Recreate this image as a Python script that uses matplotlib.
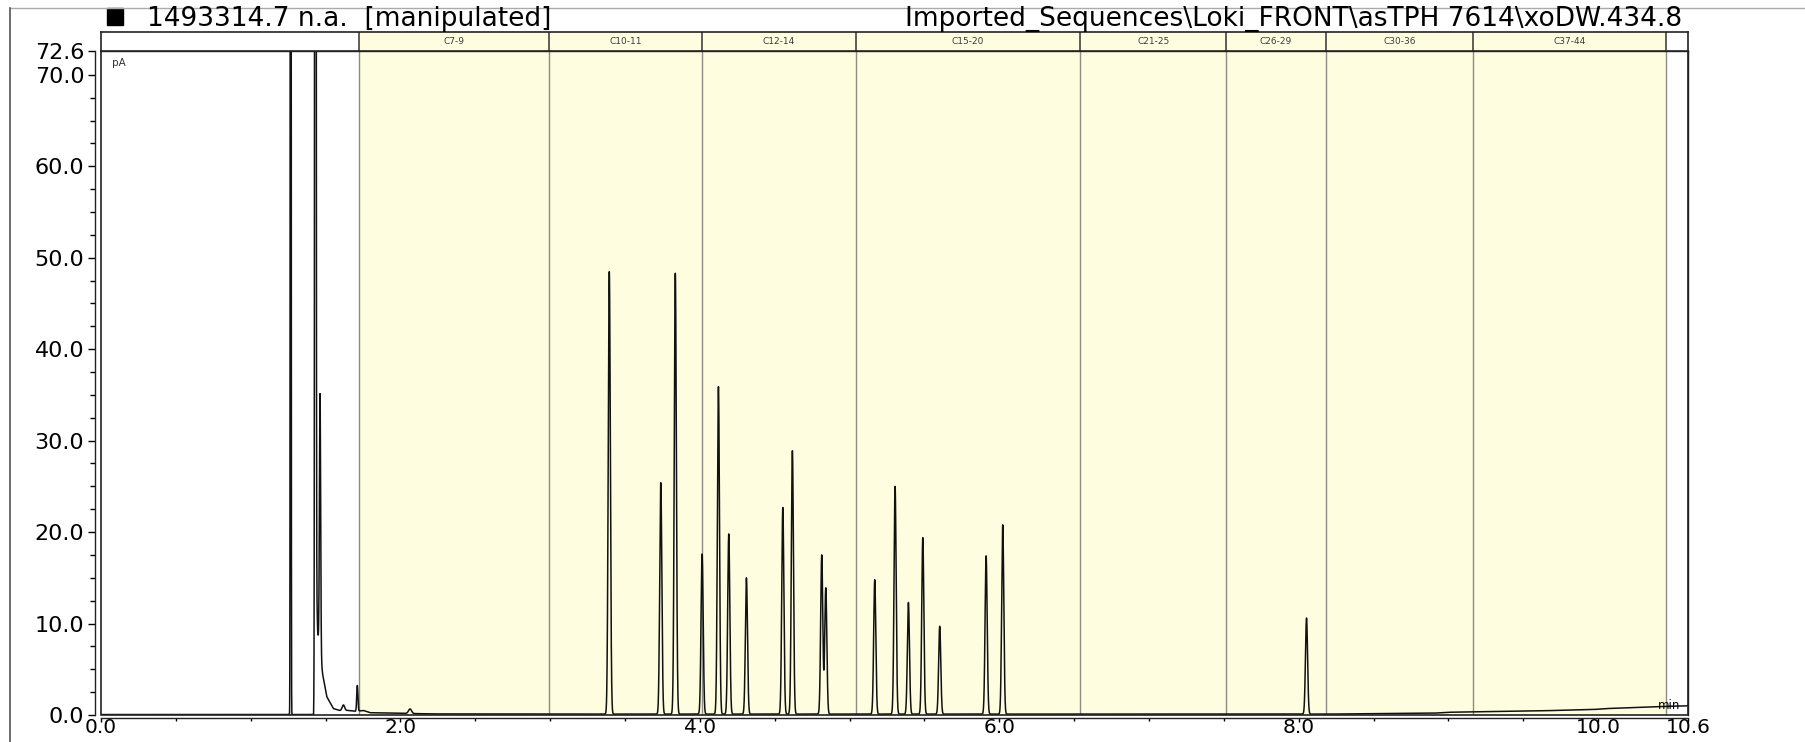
import numpy as np
import matplotlib.pyplot as plt
from matplotlib.lines import Line2D
from matplotlib.patches import Rectangle

plt.rcParams['font.family'] = ['DejaVu Sans']

# peak table: retention time (min), apex height above baseline (pA), sigma (min)
peak_rt = [1.267, 1.432, 1.463, 1.619, 1.712, 2.064,
           3.395, 3.739, 3.836, 4.015, 4.124, 4.193, 4.311,
           4.554, 4.618, 4.814, 4.841, 5.168, 5.304, 5.393, 5.489, 5.602,
           5.912, 6.023, 8.052]
peak_height = [400.0, 500.0, 28.3, 0.6, 2.8, 0.5,
               48.4, 25.3, 48.2, 17.5, 35.8, 19.7, 14.9,
               22.6, 28.8, 17.4, 13.8, 14.7, 24.9, 12.2, 19.3, 9.6,
               17.3, 20.7, 10.5]
peak_sigma = [0.002, 0.003, 0.004, 0.008, 0.004, 0.010,
              0.007, 0.007, 0.007, 0.007, 0.007, 0.007, 0.007,
              0.007, 0.007, 0.007, 0.007, 0.007, 0.007, 0.007, 0.007, 0.007,
              0.007, 0.007, 0.007]

# baseline / solvent tail points (min, pA)
base_t = [0.0, 1.42, 1.440, 1.447, 1.481, 1.508, 1.552, 1.592, 1.652, 1.70,
          1.752, 1.797, 2.2, 3.0, 6.0, 8.2, 8.9, 9.0, 9.6, 9.97, 10.05, 10.45, 10.6]
base_v = [0.05, 0.05, 14.0, 9.0, 4.4, 2.0, 0.7, 0.5, 0.5, 0.4,
          0.5, 0.25, 0.12, 0.1, 0.1, 0.1, 0.2, 0.3, 0.45, 0.6, 0.7, 0.95, 1.0]

# carbon-range windows
band_edges = [1.72, 2.99, 4.017, 5.04, 6.54, 7.515, 8.18, 9.165, 10.45]
band_labels = ['C7-9', 'C10-11', 'C12-14', 'C15-20', 'C21-25', 'C26-29', 'C30-36', 'C37-44']

x_ticks = [0.0, 2.0, 4.0, 6.0, 8.0, 10.0, 10.6]
y_ticks = [0.0, 10.0, 20.0, 30.0, 40.0, 50.0, 60.0, 70.0, 72.6]

header_left = '1493314.7 n.a.  [manipulated]'
header_right = 'Imported_Sequences\\Loki_FRONT\\asTPH 7614\\xoDW.434.8'

YELLOW = '#fffde0'

# build the trace
t = np.linspace(0, 10.6, 24000)
signal = np.interp(t, base_t, base_v)
for rt, h, s in zip(peak_rt, peak_height, peak_sigma):
    signal += h * np.exp(-0.5 * ((t - rt) / s) ** 2)

W, H = 1805, 742
def fx(px):
    return px / W
def fy(py):
    return 1 - py / H

fig = plt.figure(figsize=(W / 100, H / 100), dpi=100)

ax = fig.add_axes([fx(101), fy(715), fx(1688) - fx(101), fy(51) - fy(715)])
ax.set_xlim(0, 10.6)
ax.set_ylim(0, 72.6)

for b0, b1 in zip(band_edges[:-1], band_edges[1:]):
    ax.axvspan(b0, b1, color=YELLOW, lw=0, zorder=0)
for b in band_edges:
    ax.axvline(b, color='#8c8c84', lw=1, zorder=1)

ax.plot(t, signal, color='#111111', lw=1.1, zorder=3)

# axis lines sit a few pixels outside the plot frame
ax.spines['left'].set_position(('outward', 4))
ax.spines['bottom'].set_position(('outward', 2))
for sp in ax.spines.values():
    sp.set_color('#222222')
    sp.set_linewidth(1)
ax.add_patch(Rectangle((0, 0), 1, 1, transform=ax.transAxes, fill=False,
                       ec='#222222', lw=1.2, clip_on=False, zorder=5))

ax.set_xticks(x_ticks)
ax.set_xticklabels(['%.1f' % v for v in x_ticks])
ax.set_xticks([v for v in np.arange(0.5, 10.5, 0.5) if v % 2 != 0], minor=True)
ax.set_yticks(y_ticks)
ax.set_yticklabels(['%.1f' % v for v in y_ticks])
ax.set_yticks([v for v in np.arange(2.5, 72.5, 2.5) if v % 10 != 0], minor=True)
ax.tick_params(axis='x', which='major', length=3, width=1, pad=-2.5, labelsize=14.5)
ax.tick_params(axis='x', which='minor', length=2.2, width=1)
ax.tick_params(axis='y', which='major', length=5, width=1, pad=3, labelsize=16)
ax.tick_params(axis='y', which='minor', length=3.5, width=1)

ax.text(0.007, 0.99, 'pA', transform=ax.transAxes, fontsize=7.5, va='top', ha='left', color='#333333')
ax.text(0.995, 0.0136, 'min', transform=ax.transAxes, fontsize=8.5, va='center', ha='right', zorder=6)

# range header strip
hax = fig.add_axes([fx(101), fy(51), fx(1688) - fx(101), fy(31.5) - fy(51)])
hax.set_xlim(0, 10.6)
hax.set_ylim(0, 1)
hax.set_xticks([])
hax.set_yticks([])
for sp in hax.spines.values():
    sp.set_color('#222222')
    sp.set_linewidth(1.2)
for b0, b1, lab in zip(band_edges[:-1], band_edges[1:], band_labels):
    hax.axvspan(b0, b1, color=YELLOW, lw=0)
    hax.text((b0 + b1) / 2, 0.5, lab, ha='center', va='center', fontsize=6.5, color='#3a3a3a')
for b in band_edges:
    hax.axvline(b, color='#333333', lw=1.1)

# title line
fig.add_artist(Rectangle((fx(107), fy(25)), 16 / W, 17 / H, transform=fig.transFigure,
                         color='black'))
fig.text(fx(147), fy(26), header_left, fontsize=19, ha='left', va='baseline')
fig.text(fx(1682), fy(26), header_right, fontsize=19, ha='right', va='baseline')

# window border
fig.add_artist(Line2D([fx(10), 1], [fy(8), fy(8)], color='#aaaaaa', lw=1))
fig.add_artist(Line2D([fx(10), fx(10)], [fy(8), 0], color='#555555', lw=1.2))

fig.savefig('out.png', dpi=100)
